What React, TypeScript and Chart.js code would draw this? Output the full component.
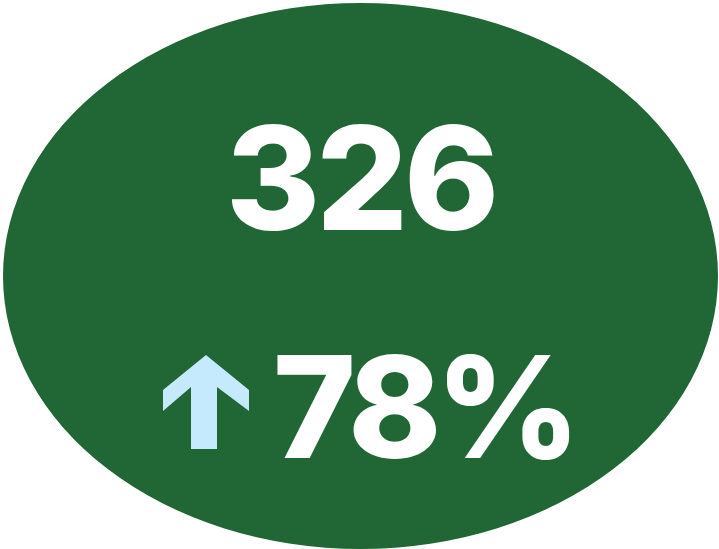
import React, { useEffect, useRef } from "react";
import { Chart, registerables } from "chart.js";

Chart.register(...registerables);

const labels = ["Total"];
const values = [326];
const changePct = [78];

const GREEN = "#216736";
const ARROW = "#c5e9fd";
const FONT = "Inter, 'Open Sans', sans-serif";

const kpiPlugin = {
  id: "kpiEllipse",
  beforeDatasetsDraw(chart: any) {
    const arc = chart.getDatasetMeta(0).data[0];
    if (!arc) return;
    const { x, y, outerRadius } = arc;
    const ctx = chart.ctx;
    ctx.save();
    ctx.translate(x, y);
    ctx.scale(357.5 / outerRadius, 1);
    ctx.translate(-x, -y);
  },
  afterDatasetsDraw(chart: any) {
    chart.ctx.restore();
  },
  afterDraw(chart: any) {
    const ctx = chart.ctx;
    const arc = chart.getDatasetMeta(0).data[0];
    const cx = arc.x;
    ctx.save();
    ctx.fillStyle = "#ffffff";
    ctx.textBaseline = "alphabetic";
    ctx.font = `800 144px ${FONT}`;
    ctx.textAlign = "center";
    (ctx as any).letterSpacing = "-4px";
    ctx.fillText(String(values[0]), cx, 230);

    ctx.textAlign = "left";
    ctx.font = `800 141px ${FONT}`;
    (ctx as any).letterSpacing = "-6px";
    ctx.fillText(`${changePct[0]}%`, 273, 458);
    (ctx as any).letterSpacing = "0px";

    // up arrow
    ctx.fillStyle = ARROW;
    ctx.beginPath();
    ctx.moveTo(206, 355);
    ctx.lineTo(249, 390);
    ctx.lineTo(249, 411);
    ctx.lineTo(217, 387);
    ctx.lineTo(217, 449);
    ctx.lineTo(191, 449);
    ctx.lineTo(191, 387);
    ctx.lineTo(163, 411);
    ctx.lineTo(163, 390);
    ctx.closePath();
    ctx.fill();
    ctx.restore();
  },
};

export default function App() {
  const ref = useRef<HTMLCanvasElement | null>(null);
  useEffect(() => {
    if (!ref.current) return;
    const chart = new Chart(ref.current, {
      type: "pie",
      data: {
        labels,
        datasets: [
          {
            data: values,
            backgroundColor: [GREEN],
            borderWidth: 0,
          },
        ],
      },
      options: {
        animation: false,
        responsive: true,
        maintainAspectRatio: false,
        layout: { padding: { top: 3, bottom: 0, left: 3, right: 1 } },
        plugins: { legend: { display: false }, tooltip: { enabled: false } },
      },
      plugins: [kpiPlugin],
    });
    return () => chart.destroy();
  }, []);
  return (
    <div style={{ position: "fixed", left: 0, top: 0, width: 719, height: 549, background: "#ffffff" }}>
      <canvas ref={ref} />
    </div>
  );
}
